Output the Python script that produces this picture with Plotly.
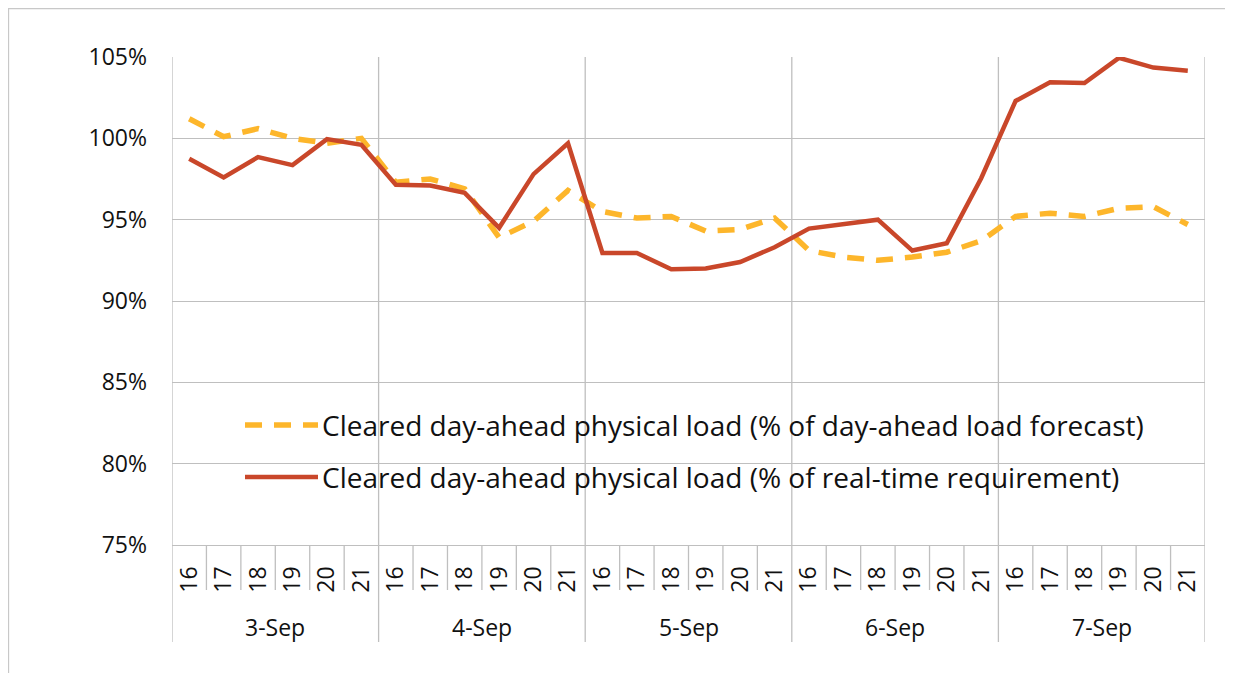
import plotly.graph_objects as go

days = ["3-Sep", "4-Sep", "5-Sep", "6-Sep", "7-Sep"]
hours = ["16", "17", "18", "19", "20", "21"]

name_fc = "Cleared day-ahead physical load (% of day-ahead load forecast)"
name_rt = "Cleared day-ahead physical load (% of real-time requirement)"

pct_forecast = [101.2, 100.1, 100.6, 100.0, 99.7, 100.0,
                97.3, 97.5, 96.9, 93.9, 94.9, 96.8,
                95.5, 95.1, 95.2, 94.3, 94.4, 95.1,
                93.1, 92.7, 92.5, 92.7, 93.0, 93.7,
                95.2, 95.4, 95.2, 95.7, 95.8, 94.7]
pct_realtime = [98.75, 97.6, 98.85, 98.35, 99.95, 99.6,
                97.15, 97.1, 96.65, 94.5, 97.8, 99.7,
                92.95, 92.95, 91.95, 92.0, 92.4, 93.3,
                94.45, 94.7, 95.0, 93.1, 93.55, 97.55,
                102.3, 103.45, 103.4, 104.95, 104.35, 104.15]

y_ticks = [75, 80, 85, 90, 95, 100, 105]

n = len(days) * len(hours)
xpos = list(range(n))
hour_labels = [h for d in days for h in hours]

YELLOW = "#FDB62B"
RED = "#C9472A"
GRID = "#BFBFBF"
FONT = "Open Sans"
TXT = "#111111"
DASH = "17px,12px"

fig = go.Figure()
fig.add_trace(go.Scatter(x=xpos, y=pct_forecast, mode="lines", name=name_fc,
                         line=dict(color=YELLOW, width=5.5, dash=DASH)))
fig.add_trace(go.Scatter(x=xpos, y=pct_realtime, mode="lines", name=name_rt,
                         line=dict(color=RED, width=4.5)))

# page has an 8px body margin; figure pixel = page pixel - 8
OFF = 8
W, H = 1225, 665
L, R, T, B = 164, 28, 49, 128
pw, ph = W - L - R, H - T - B

def px_x(p):
    return (p - OFF - L) / pw

def px_y(p):
    return (H - B - (p - OFF)) / ph

shapes = []
for k in range(n + 1):
    xb = k - 0.5
    if k % len(hours) == 0:
        shapes.append(dict(type="line", xref="x", yref="paper", x0=xb, x1=xb,
                           y0=px_y(642), y1=1, line=dict(color=GRID, width=1.3), layer="below"))
    else:
        shapes.append(dict(type="line", xref="x", yref="paper", x0=xb, x1=xb,
                           y0=px_y(590), y1=0, line=dict(color=GRID, width=1.3)))
# outer chart border
shapes.append(dict(type="rect", xref="paper", yref="paper",
                   x0=px_x(8.5), x1=px_x(1260), y0=px_y(720), y1=px_y(8.5),
                   line=dict(color="#C8C8C8", width=1.3)))
# legend samples
shapes.append(dict(type="line", xref="paper", yref="paper", x0=px_x(245), x1=px_x(318),
                   y0=px_y(425), y1=px_y(425), line=dict(color=YELLOW, width=5.5, dash=DASH)))
shapes.append(dict(type="line", xref="paper", yref="paper", x0=px_x(245), x1=px_x(318),
                   y0=px_y(477), y1=px_y(477), line=dict(color=RED, width=4.5)))

annotations = []
for i, d in enumerate(days):
    annotations.append(dict(x=i * len(hours) + (len(hours) - 1) / 2, y=px_y(627), xref="x", yref="paper",
                            text=d, showarrow=False, yanchor="middle",
                            font=dict(family=FONT, size=23, color=TXT)))
for yy, name in [(425, name_fc), (477, name_rt)]:
    annotations.append(dict(x=px_x(320), y=px_y(yy), xref="paper", yref="paper", text=name,
                            showarrow=False, xanchor="left", yanchor="middle",
                            font=dict(family=FONT, size=28, color=TXT)))

fig.update_layout(
    width=W, height=H,
    margin=dict(l=L, r=R, t=T, b=B),
    paper_bgcolor="white", plot_bgcolor="white",
    showlegend=False,
    shapes=shapes, annotations=annotations,
    font=dict(family=FONT, size=23, color=TXT),
)
fig.update_xaxes(range=[-0.5, n - 0.5], tickmode="array", tickvals=xpos, ticktext=hour_labels,
                 tickangle=-90, ticks="", showgrid=False, zeroline=False,
                 showline=True, linecolor=GRID, linewidth=1.3, ticklabelstandoff=11,
                 tickfont=dict(family=FONT, size=23, color=TXT))
fig.update_yaxes(range=[75, 105], tickmode="array", tickvals=y_ticks,
                 ticktext=[f"{v}%" for v in y_ticks], ticks="", showgrid=True,
                 gridcolor=GRID, gridwidth=1.3, zeroline=False, showline=False,
                 ticklabelstandoff=24, tickfont=dict(family=FONT, size=23, color=TXT))

fig.write_html("out.html")
